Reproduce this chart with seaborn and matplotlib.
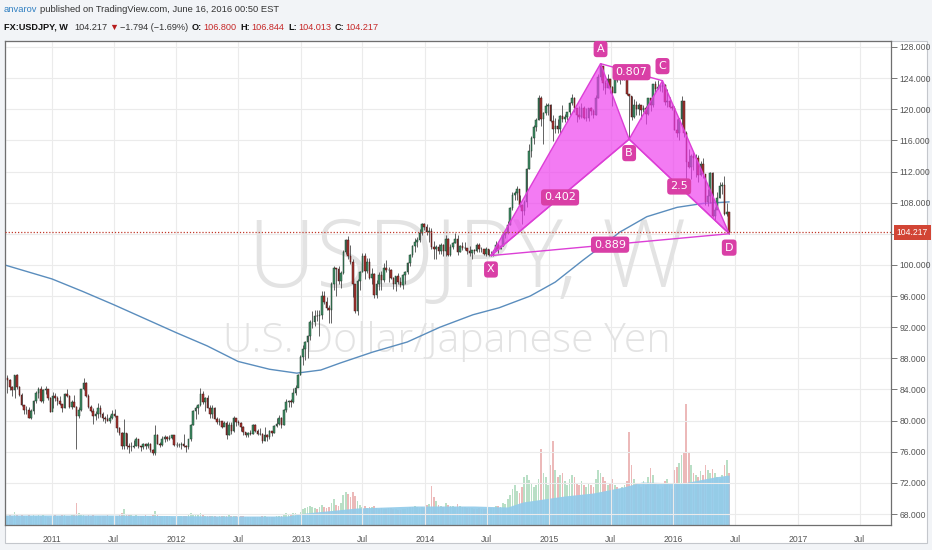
"""
USDJPY weekly candles with an XABCD harmonic pattern, 200-week MA and volume.
"""

import numpy as np
import pandas as pd
import matplotlib
matplotlib.use('Agg')
import matplotlib.pyplot as plt
import matplotlib.dates as mdates
from matplotlib import transforms as mtrans
from matplotlib.patches import Rectangle
import seaborn as sns


########  data  ########

FIRST_OPEN = 85.5
LAST_OPEN = 106.8

# weekly closes / highs / lows, Monday-dated bars from 2010-08-23
CLOSE_2010 = [85.2, 84.3, 83.9, 85.8, 84.3, 83.3, 82.0, 81.4, 81.4, 80.4, 81.2, 82.5, 83.5, 84.1, 82.5, 83.9, 84.0, 82.9, 81.1]
HIGH_2010 = [85.9, 85.4, 84.5, 85.9, 86.0, 84.4, 83.6, 82.0, 81.9, 81.8, 81.5, 82.6, 83.8, 84.3, 84.4, 84.0, 84.5, 84.0, 83.0]
LOW_2010 = [83.6, 83.9, 83.2, 82.9, 84.1, 83.2, 81.9, 80.9, 80.8, 80.4, 80.2, 80.9, 82.3, 82.9, 82.4, 82.2, 83.4, 82.7, 81.1]

CLOSE_2011 = [83.2, 82.9, 82.5, 82.1, 81.6, 83.4, 83.2, 81.7, 82.4, 81.8, 80.6, 81.4, 84.0, 84.8, 83.1, 81.8, 81.2, 80.6, 80.8, 81.6,
              80.8, 80.4, 80.2, 80.0, 80.4, 80.8, 80.6, 79.1, 78.4, 76.7, 78.4, 76.8, 76.6, 76.6, 76.8, 77.6, 76.8, 76.6, 77.0, 76.7,
              77.0, 76.2, 75.8, 78.2, 77.0, 76.9, 77.7, 77.9, 77.6, 77.8, 78.1, 76.9]
HIGH_2011 = [83.7, 83.6, 83.1, 83.2, 82.1, 83.5, 84.0, 83.3, 82.6, 83.3, 81.9, 81.7, 84.0, 85.5, 85.0, 83.4, 82.0, 81.6, 81.2, 82.2,
             82.0, 81.1, 80.6, 80.8, 80.7, 81.4, 81.5, 80.5, 79.2, 78.5, 80.2, 78.4, 77.1, 77.2, 77.5, 77.9, 77.6, 76.8, 77.1, 77.1,
             77.2, 77.1, 76.3, 79.5, 78.3, 77.2, 78.0, 78.1, 78.0, 78.1, 78.2, 78.2]
LOW_2011 = [81.6, 82.5, 82.0, 82.0, 81.1, 81.6, 83.0, 81.6, 81.5, 81.8, 76.3, 80.3, 81.2, 83.9, 83.0, 81.6, 81.1, 79.6, 80.1, 80.4,
            80.5, 80.0, 79.7, 79.9, 79.7, 80.2, 80.5, 78.5, 78.2, 76.4, 76.3, 76.3, 75.9, 76.1, 76.5, 76.8, 76.5, 76.1, 76.4, 76.3,
            76.5, 76.0, 75.6, 75.6, 77.0, 76.6, 76.8, 77.3, 77.4, 77.5, 77.7, 76.8]

CLOSE_2012 = [76.9, 76.9, 77.0, 76.7, 76.6, 77.6, 79.5, 81.2, 81.6, 82.0, 83.4, 82.4, 82.9, 81.6, 80.9, 81.6, 80.2, 79.8, 79.9, 79.2,
              79.7, 78.2, 79.4, 78.7, 80.4, 79.8, 79.7, 79.2, 78.5, 78.2, 78.4, 78.3, 79.5, 78.7, 78.3, 78.3, 77.4, 78.2, 77.9, 78.7,
              78.4, 79.3, 79.6, 80.4, 79.4, 81.3, 82.4, 82.5, 82.4, 83.5, 84.2, 85.9, 88.2]
HIGH_2012 = [77.3, 77.1, 77.2, 78.3, 76.9, 77.7, 79.6, 81.3, 81.9, 82.1, 84.2, 83.8, 83.0, 83.3, 82.0, 82.0, 81.8, 80.5, 80.3, 80.0,
             80.0, 79.9, 79.8, 79.8, 80.6, 80.4, 80.1, 79.8, 79.3, 78.6, 78.6, 78.8, 79.6, 79.6, 78.9, 79.0, 78.4, 79.2, 78.3, 78.8,
             78.7, 79.4, 80.3, 80.7, 80.5, 81.5, 82.8, 82.6, 82.8, 84.2, 84.6, 86.0, 88.4]
LOW_2012 = [76.6, 76.6, 76.3, 76.6, 76.0, 76.3, 77.4, 79.4, 80.2, 80.8, 81.9, 82.1, 81.2, 81.6, 80.3, 80.4, 80.2, 79.6, 79.5, 79.1,
            79.3, 77.7, 78.1, 78.3, 78.6, 79.3, 79.5, 78.7, 78.2, 77.9, 77.9, 78.2, 78.3, 78.6, 78.1, 78.2, 77.1, 77.4, 77.4, 77.7,
            78.0, 78.4, 79.2, 79.5, 79.1, 79.4, 81.1, 81.7, 81.7, 82.2, 83.3, 84.3, 85.9]

CLOSE_2013 = [89.2, 90.1, 90.9, 92.7, 92.7, 93.5, 93.4, 93.6, 96.0, 95.3, 94.5, 94.2, 97.6, 99.6, 99.5, 98.0, 99.0, 101.6, 103.2, 101.1,
              100.4, 97.5, 94.1, 97.9, 99.1, 101.2, 99.2, 100.4, 98.3, 98.9, 96.2, 97.5, 98.7, 98.1, 99.6, 99.4, 99.4, 98.3, 97.5, 98.6,
              97.8, 97.4, 98.7, 99.1, 100.2, 101.3, 102.4, 102.9, 103.2, 104.1, 105.3, 104.9]
HIGH_2013 = [89.7, 90.2, 91.0, 92.9, 94.1, 94.2, 94.2, 94.2, 96.6, 96.7, 95.9, 94.9, 97.8, 99.9, 99.6, 99.9, 99.2, 101.9, 103.3, 103.7,
             102.5, 100.8, 97.3, 98.2, 99.2, 101.5, 101.5, 100.9, 100.9, 99.6, 99.0, 98.1, 99.1, 99.2, 100.2, 100.6, 99.7, 99.5, 98.5, 98.6,
             99.0, 98.4, 98.9, 99.2, 100.4, 101.4, 102.5, 103.4, 103.6, 104.6, 105.4, 105.4]
LOW_2013 = [87.1, 87.8, 88.1, 90.4, 91.9, 92.2, 92.8, 90.9, 93.1, 95.0, 94.2, 92.6, 92.6, 96.8, 96.0, 97.5, 97.1, 98.8, 101.4, 100.7,
            100.1, 95.9, 93.8, 93.6, 96.8, 99.1, 98.2, 99.0, 98.2, 97.6, 95.8, 95.8, 96.8, 96.8, 97.8, 99.1, 97.8, 98.2, 96.9, 96.6,
            97.5, 97.2, 96.9, 97.6, 98.9, 99.9, 101.0, 101.6, 102.3, 102.9, 103.9, 104.5]

CLOSE_2014 = [104.2, 104.3, 102.3, 102.0, 102.3, 101.8, 102.5, 101.8, 103.3, 101.3, 102.3, 102.8, 103.3, 101.6, 102.4, 102.2, 102.2, 101.8, 101.5, 101.9,
              101.8, 102.5, 102.0, 102.0, 101.4, 102.1, 101.3, 101.3, 101.8, 102.6, 102.0, 102.4, 103.8, 104.1, 105.1, 107.3, 109.0, 109.3, 109.8, 107.7,
              106.9, 108.1, 112.3, 114.6, 116.3, 117.7, 118.6, 121.4, 118.8, 119.5, 120.4, 120.5]
HIGH_2014 = [105.2, 104.9, 104.8, 103.1, 102.6, 102.7, 102.8, 102.7, 103.8, 103.4, 102.7, 103.0, 104.1, 103.9, 102.6, 102.9, 103.0, 102.2, 102.4, 101.9,
             102.1, 102.8, 102.8, 102.3, 102.1, 102.3, 102.0, 101.8, 101.9, 103.1, 102.8, 102.6, 104.1, 104.2, 105.7, 107.4, 109.4, 109.5, 110.1, 109.0,
             107.8, 108.4, 112.5, 115.6, 116.6, 118.0, 118.9, 121.8, 121.7, 119.6, 120.8, 120.8]
LOW_2014 = [103.9, 102.9, 102.0, 100.8, 100.8, 101.4, 101.4, 101.2, 101.2, 101.2, 101.2, 102.0, 102.8, 101.3, 101.6, 101.9, 101.9, 101.4, 101.1, 100.8,
            101.4, 101.7, 101.7, 101.7, 101.3, 101.2, 101.1, 101.1, 101.1, 101.8, 101.5, 102.0, 102.4, 103.5, 104.0, 105.1, 107.1, 108.3, 108.4, 107.5,
            105.2, 106.4, 107.5, 112.3, 113.9, 115.5, 117.2, 118.6, 117.8, 115.6, 119.3, 119.2]

CLOSE_2015 = [118.5, 117.5, 117.8, 117.5, 119.1, 118.8, 119.0, 119.6, 120.8, 121.4, 120.1, 119.2, 119.0, 120.2, 118.9, 118.9, 120.2, 119.8, 119.3, 121.5,
              124.1, 125.6, 123.4, 122.7, 123.9, 122.8, 122.1, 124.0, 123.8, 123.9, 124.2, 124.3, 122.0, 121.7, 119.0, 120.6, 120.0, 120.6, 119.9, 120.2,
              119.4, 121.5, 120.6, 123.2, 122.6, 122.8, 122.8, 123.1, 120.9, 121.1, 120.3, 120.2]
HIGH_2015 = [120.7, 119.2, 118.9, 118.7, 119.2, 120.5, 119.4, 119.7, 120.9, 122.0, 121.6, 120.1, 120.4, 120.8, 120.4, 120.1, 120.2, 120.3, 120.0, 121.8,
             124.5, 125.9, 125.1, 123.8, 124.5, 123.9, 123.0, 124.3, 124.6, 124.3, 125.0, 125.3, 124.5, 122.0, 121.7, 121.3, 121.0, 120.8, 120.6, 120.6,
             120.4, 121.5, 121.5, 123.2, 123.6, 123.8, 123.2, 123.7, 123.3, 122.6, 121.6, 120.6]
LOW_2015 = [118.3, 115.9, 116.9, 117.0, 116.9, 118.3, 118.4, 118.6, 119.3, 120.6, 119.6, 118.3, 118.7, 118.9, 118.7, 118.5, 118.5, 119.2, 118.9, 119.3,
            121.5, 123.7, 122.5, 122.0, 122.7, 122.1, 120.4, 122.4, 123.5, 123.2, 123.7, 123.8, 121.8, 116.2, 118.6, 118.9, 119.3, 119.2, 118.7, 119.6,
            118.1, 119.2, 119.8, 120.3, 122.2, 122.6, 122.3, 122.2, 120.6, 120.3, 120.2, 119.9]

CLOSE_2016 = [117.3, 117.0, 118.8, 121.1, 116.9, 113.2, 112.6, 114.0, 113.8, 113.8, 111.6, 113.0, 111.7, 108.1, 108.8, 111.8, 106.3, 107.1, 108.6, 110.2,
              110.3, 106.5, 106.8, 104.217]
HIGH_2016 = [120.4, 118.8, 118.9, 121.7, 121.0, 117.2, 114.9, 114.2, 114.6, 114.3, 114.1, 113.3, 113.8, 111.7, 109.8, 111.9, 111.9, 107.5, 109.4, 110.6,
             110.6, 111.4, 107.9, 106.844]
LOW_2016 = [117.3, 116.5, 116.0, 118.0, 116.5, 111.0, 112.4, 111.1, 112.2, 111.3, 110.7, 111.4, 111.2, 107.7, 107.6, 107.9, 106.1, 105.6, 107.5, 108.6,
            109.1, 106.4, 106.3, 104.013]

# weekly volume (arbitrary units)
VOL_2010 = [9, 10, 9, 13, 10, 9, 10, 9, 9, 10, 9, 10, 9, 10, 9, 10, 9, 8, 7]
VOL_2011 = [9, 10, 9, 9, 10, 10, 9, 9, 10, 10, 22, 12, 11, 10, 9, 10, 9, 11, 9, 9,
            9, 9, 9, 10, 9, 9, 9, 9, 10, 12, 16, 11, 10, 10, 9, 10, 9, 9, 9, 10,
            9, 9, 10, 14, 10, 9, 9, 9, 9, 9, 8, 7]
VOL_2012 = [8, 9, 9, 9, 9, 10, 12, 11, 10, 10, 12, 10, 9, 9, 9, 9, 9, 8, 9, 9,
            9, 9, 10, 9, 9, 9, 9, 9, 9, 8, 8, 8, 8, 8, 8, 8, 9, 9, 8, 8,
            8, 8, 9, 9, 9, 11, 12, 11, 11, 12, 12, 11, 13]
VOL_2013 = [16, 17, 18, 19, 18, 17, 16, 18, 20, 18, 17, 18, 22, 26, 20, 19, 22, 30, 33, 31,
            28, 33, 29, 24, 20, 18, 19, 17, 18, 18, 19, 17, 16, 17, 16, 16, 17, 17, 16, 16,
            15, 15, 16, 16, 17, 18, 18, 19, 18, 17, 18, 17]
VOL_2014 = [20, 21, 39, 28, 24, 20, 19, 18, 22, 20, 19, 19, 18, 21, 19, 18, 18, 17, 17, 17,
            16, 16, 17, 16, 16, 16, 17, 17, 17, 19, 19, 18, 22, 21, 26, 30, 36, 40, 34, 32,
            38, 48, 50, 45, 42, 38, 40, 46, 76, 52, 48, 40]
VOL_2015 = [60, 84, 55, 48, 50, 52, 44, 40, 46, 50, 48, 42, 40, 44, 40, 38, 42, 40, 38, 46,
            55, 52, 48, 44, 40, 42, 46, 40, 38, 36, 38, 40, 44, 93, 60, 46, 42, 40, 38, 44,
            40, 48, 57, 50, 42, 40, 36, 38, 44, 46, 40, 36]
VOL_2016 = [55, 58, 62, 70, 73, 121, 72, 60, 52, 50, 48, 54, 50, 60, 55, 52, 56, 52, 48, 46,
            50, 60, 65, 52]

# volume moving average
VMA_DATES = ['2010-08-16', '2011-06-01', '2012-06-01', '2012-11-20', '2013-01-15', '2013-06-15',
             '2013-12-01', '2014-05-25', '2014-09-01', '2014-10-15', '2015-02-15', '2015-05-10',
             '2015-08-07', '2015-09-30', '2016-01-30', '2016-05-01', '2016-06-13']
VMA_VALUES = [10, 10, 9, 9, 12, 17, 19, 19, 18, 23, 29, 32, 38, 43, 42, 48, 50]

# 200-week moving average of price
MA_DATES = ['2010-08-15', '2011-01-01', '2011-04-01', '2011-07-01', '2011-10-01', '2012-01-01',
            '2012-04-01', '2012-07-01', '2012-10-01', '2012-12-20', '2013-03-01', '2013-04-27',
            '2013-07-31', '2013-11-10', '2014-02-14', '2014-05-22', '2014-08-07', '2014-11-06',
            '2015-01-19', '2015-04-10', '2015-06-28', '2015-07-27', '2015-10-15', '2016-01-12',
            '2016-03-28', '2016-06-13']
MA_VALUES = [100.0, 98.2, 96.6, 94.9, 93.1, 91.3, 89.6, 87.6, 86.6, 86.1, 86.5, 87.4,
             88.8, 90.1, 92.0, 93.6, 94.5, 96.0, 97.8, 100.6, 103.2, 104.2, 106.2, 107.4,
             107.9, 108.1]

# harmonic pattern
PATTERN_NAMES = ['X', 'A', 'B', 'C', 'D']
PATTERN_DATES = ['2014-07-14', '2015-06-01', '2015-08-24', '2015-11-30', '2016-06-13']
PATTERN_PRICES = [101.2, 125.86, 116.15, 123.67, 104.01]
RATIO_PAIRS = [('X', 'B'), ('A', 'C'), ('B', 'D'), ('X', 'D')]
RATIO_LABELS = ['0.402', '0.807', '2.5', '0.889']

LAST_PRICE = 104.217
PRICE_TICKS = list(range(68, 129, 4))

HEADER_1 = [('anvarov', '#2f7fc1', 'normal', 3),
            ('published on TradingView.com, June 16, 2016 00:50 EST', '#333333', 'normal', 0)]
HEADER_2 = [('FX:USDJPY, W', '#111111', 'bold', 6),
            ('104.217', '#333333', 'normal', 2),
            ('\u25bc', '#b71c1c', 'normal', 2),
            ('\u22121.794 (\u22121.69%)', '#333333', 'normal', 4),
            ('O:', '#111111', 'bold', 1), ('106.800', '#c62828', 'normal', 4),
            ('H:', '#111111', 'bold', 1), ('106.844', '#c62828', 'normal', 4),
            ('L:', '#111111', 'bold', 1), ('104.013', '#c62828', 'normal', 4),
            ('C:', '#111111', 'bold', 1), ('104.217', '#c62828', 'normal', 0)]

########  style  ########

W, H = 932, 550
UP_COLOR = '#3f8f66'
DOWN_COLOR = '#a8342f'
PINK_FILL = '#ee3cee'
PINK_LINE = '#dc3fd6'
PINK_BOX = '#d93fa6'
NARROW = ['Noto Sans Condensed', 'DejaVu Sans Condensed', 'Liberation Sans Narrow', 'Liberation Sans', 'DejaVu Sans']
WATERMARK_FONT = ['Open Sans', 'DejaVu Sans']

sns.set_style('white')
plt.rcParams['font.family'] = NARROW

###################################

closes = np.array(CLOSE_2010 + CLOSE_2011 + CLOSE_2012 + CLOSE_2013 + CLOSE_2014 + CLOSE_2015 + CLOSE_2016)
highs = np.array(HIGH_2010 + HIGH_2011 + HIGH_2012 + HIGH_2013 + HIGH_2014 + HIGH_2015 + HIGH_2016)
lows = np.array(LOW_2010 + LOW_2011 + LOW_2012 + LOW_2013 + LOW_2014 + LOW_2015 + LOW_2016)
vols = np.array(VOL_2010 + VOL_2011 + VOL_2012 + VOL_2013 + VOL_2014 + VOL_2015 + VOL_2016)
opens = np.concatenate([[FIRST_OPEN], closes[:-1]])
opens[-1] = LAST_OPEN

dates = pd.date_range('2010-08-23', periods=len(closes), freq='W-MON')
df = pd.DataFrame(dict(date=dates, o=opens, h=highs, l=lows, c=closes, v=vols))
df['x'] = mdates.date2num(df['date'])
df['up'] = df['c'] >= df['o']

fig = plt.figure(figsize=(W / 100, H / 100), dpi=100, facecolor='#f2f4f7')
renderer = fig.canvas.get_renderer()


def text_width(s, size, weight='normal', family=NARROW):
    t = fig.text(0, 0, s, fontsize=size, fontweight=weight, family=family)
    w = t.get_window_extent(renderer).width
    t.remove()
    return w


def fit_size(s, target_px, max_size, weight='normal'):
    return min(max_size, max_size * target_px / text_width(s, max_size, weight))


# white panel behind chart + price scale
fig.patches.append(Rectangle((5 / W, 1 - 543 / H), 922 / W, 502 / H, transform=fig.transFigure,
                             facecolor='white', edgecolor='#c4c7cc', lw=0.8, zorder=-1))

pos = [5 / W, 1 - 525 / H, 886 / W, 484 / H]
axv = fig.add_axes(pos)
ax = fig.add_axes(pos, sharex=axv)
ax.patch.set_visible(False)
axv.set_facecolor('white')

x0 = mdates.date2num(pd.Timestamp('2011-01-01'))
ax.set_xlim(x0 - 138.1, x0 + 2465.5)
ax.set_ylim(66.59, 128.77)

# volume pane
vcol = np.where(df['up'], '#b9dfc6', '#ecb9b9')
axv.bar(df['x'], df['v'], width=5, color=vcol, linewidth=0)
vx = mdates.date2num(pd.to_datetime(VMA_DATES))
axv.fill_between(vx, 0, VMA_VALUES, color='#92cbea', alpha=0.92, linewidth=0)
axv.set_ylim(0, 484)
axv.axis('off')

# grid
for yv in PRICE_TICKS:
    ax.axhline(yv, color='#ebebeb', lw=0.8, zorder=0)
xticks = []
xlabels = []
for yr in range(2011, 2018):
    xticks += [mdates.date2num(pd.Timestamp(f'{yr}-01-01')), mdates.date2num(pd.Timestamp(f'{yr}-07-01'))]
    xlabels += [str(yr), 'Jul']
for xv in xticks:
    ax.axvline(xv, color='#ebebeb', lw=0.8, zorder=0)

# watermark (inside the price axes, behind the candles)
ax.text(248 / W, 1 - 287 / H, 'USDJPY, W', fontsize=68, color='#e3e3e3', family=WATERMARK_FONT,
        fontweight='light', va='baseline', ha='left', transform=fig.transFigure, zorder=0.5)
ax.text(223 / W, 1 - 352 / H, 'U.S. Dollar/Japanese Yen', fontsize=29.5, color='#e3e3e3',
        family=WATERMARK_FONT, fontweight='light', va='baseline', ha='left', transform=fig.transFigure, zorder=0.5)

# 200-week MA
sns.lineplot(x=mdates.date2num(pd.to_datetime(MA_DATES)), y=MA_VALUES, ax=ax, color='#5a8dbd', lw=1, zorder=2)

# candles
ax.vlines(df['x'], df['l'], df['h'], color='#4a4a4a', lw=0.6, zorder=3)
for up, col, ec in [(True, UP_COLOR, '#1e3b2b'), (False, DOWN_COLOR, '#3a1414')]:
    d = df[df['up'] == up]
    ax.bar(d['x'], d['c'] - d['o'], bottom=d['o'], width=4.6, color=col, edgecolor=ec, lw=0.35, zorder=4)

# XABCD pattern
pat = pd.DataFrame(dict(name=PATTERN_NAMES, x=mdates.date2num(pd.to_datetime(PATTERN_DATES)), y=PATTERN_PRICES))
pat = pat.set_index('name')
for tri in (['X', 'A', 'B'], ['B', 'C', 'D']):
    ax.fill(pat.loc[tri, 'x'], pat.loc[tri, 'y'], color=PINK_FILL, alpha=0.68, lw=0, zorder=5)
    ax.plot(pat.loc[tri + tri[:1], 'x'], pat.loc[tri + tri[:1], 'y'], color=PINK_LINE, lw=1, zorder=5)
for a, b in RATIO_PAIRS:
    ax.plot(pat.loc[[a, b], 'x'], pat.loc[[a, b], 'y'], color=PINK_LINE, lw=1, zorder=5)
box = dict(boxstyle='round,pad=0.28,rounding_size=0.3', fc=PINK_BOX, ec='none')
for (a, b), lab in zip(RATIO_PAIRS, RATIO_LABELS):
    ax.text(pat.loc[[a, b], 'x'].mean(), pat.loc[[a, b], 'y'].mean(), lab, color='white', fontsize=8,
            family='DejaVu Sans', ha='center', va='center', bbox=box, zorder=7)
for name in PATTERN_NAMES:
    dy = 10.5 if name in ('A', 'C') else -10
    ax.annotate(name, (pat.loc[name, 'x'], pat.loc[name, 'y']), xytext=(0, dy), textcoords='offset points',
                color='white', fontsize=8, family='DejaVu Sans', ha='center', va='center', bbox=box, zorder=7)

# axes and ticks
tick_size = fit_size('128.000', 31, 8)
ax.yaxis.tick_right()
ax.set_yticks(PRICE_TICKS)
ax.set_yticklabels(['' if v == 104 else f'{v:.3f}' for v in PRICE_TICKS])
ax.set_xticks(xticks)
ax.set_xticklabels(xlabels)
ax.tick_params(axis='both', length=4, width=0.7, color='#777777', labelsize=tick_size,
               labelcolor='#555555', pad=2, labelfontfamily=NARROW)
ax.tick_params(axis='y', left=False, right=True)
ax.tick_params(axis='x', pad=3)
ax.set_xlabel('')
ax.set_ylabel('')
for sp in ax.spines.values():
    sp.set_visible(True)
    sp.set_color('#6f6f6f')
    sp.set_linewidth(0.9)

# last price line
ax.axhline(LAST_PRICE, color='#c0392b', lw=0.9, ls=(0, (1, 1.5)), zorder=6)
ax.text(1.0065, LAST_PRICE, f'{LAST_PRICE:.3f}', transform=mtrans.blended_transform_factory(ax.transAxes, ax.transData),
        ha='left', va='center', color='white', fontsize=tick_size, family=NARROW,
        bbox=dict(boxstyle='square,pad=0.35', fc='#d24535', ec='none'), zorder=8, clip_on=False)

# header
for runs, ypx, target in [(HEADER_1, 10, 276), (HEADER_2, 27, 374)]:
    gaps = sum(g for _, _, _, g in runs)
    base = sum(text_width(s, 8, wt) for s, _, wt, _ in runs)
    size = min(8.5, 8 * (target - gaps) / base)
    xpx = 4
    for s, col, wt, gap in runs:
        t = fig.text(xpx / W, 1 - ypx / H, s, color=col, fontweight=wt, fontsize=size, family=NARROW,
                     ha='left', va='center')
        xpx += t.get_window_extent(renderer).width + gap

fig.savefig('out.png', dpi=100, facecolor=fig.get_facecolor())
